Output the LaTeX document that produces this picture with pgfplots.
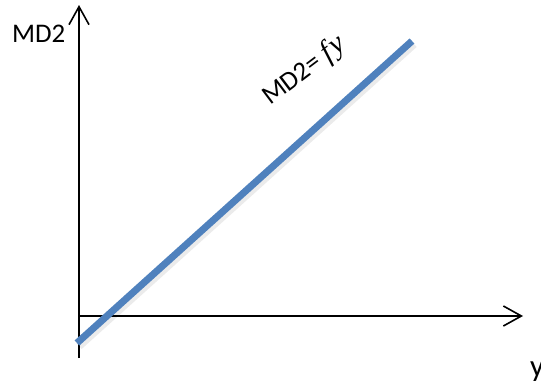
\documentclass[border=0pt]{standalone}
\usepackage{pgfplots}
\pgfplotsset{compat=1.18}
\usepackage{fontspec}
\setmainfont{Carlito}
\newfontfamily\serifit{Liberation Serif}
\usetikzlibrary{arrows.meta}
\definecolor{lineblue}{HTML}{4F81BD}
\begin{document}
\begin{tikzpicture}
\begin{axis}[
  width=541bp, height=390bp, scale only axis,
  xmin=0, xmax=541, ymin=0, ymax=390, y dir=reverse,
  hide axis, clip=false,
  every axis plot/.append style={no marks},
]
% axes with open arrow heads
\addplot[black, line width=1.6bp, -{Straight Barb[length=18bp,width=20bp,line width=1.6bp]}]
  coordinates {(79,358) (79,5)};
\addplot[black, line width=1.6bp, -{Straight Barb[length=18bp,width=20bp,line width=1.6bp]}]
  coordinates {(79,316) (523,316)};
% soft shadow under the line
\addplot[black, opacity=0.08, line width=8bp] coordinates {(79,346) (414,44)};
% MD2 = f y
\addplot[lineblue, line width=7bp] coordinates {(77,343) (412,41)};
\node[anchor=base west, font=\fontsize{27}{30}\selectfont, inner sep=0pt] at (axis cs:12,42) {MD2};
\node[anchor=base west, font=\fontsize{31}{34}\selectfont, inner sep=0pt] at (axis cs:530,376) {y};
\node[anchor=base west, rotate=37, font=\fontsize{27}{30}\selectfont, inner sep=0pt] at (axis cs:270,106)
  {MD2= {\serifit\itshape\fontsize{30}{34}\selectfont f\kern2pt y}};
\end{axis}
\pgfresetboundingbox
\path (current axis.south west) rectangle (current axis.north east);
\end{tikzpicture}
\end{document}
